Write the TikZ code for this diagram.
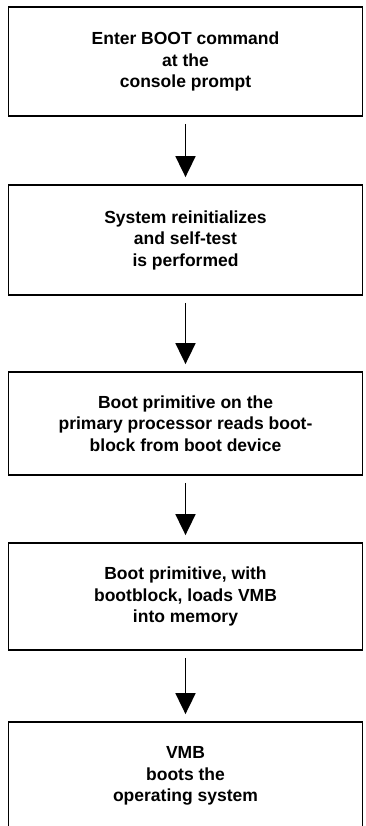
\documentclass[tikz,border=0pt]{standalone}
\usepackage{fontspec}
\setmainfont{Liberation Sans}
\usetikzlibrary{arrows.meta}

\begin{document}
\begin{tikzpicture}[x=1pt, y=-1pt, >={Triangle[width=20pt, length=21pt]},
  bootbox/.style={draw, line width=1.8pt, minimum width=354pt,
                  inner sep=0pt, align=center,
                  font=\bfseries\fontsize{17.5}{21.5}\selectfont},
  flow/.style={->, line width=1.8pt, shorten <=7pt, shorten >=7pt}]
  \clip (0, 0) rectangle (365, 826);
  \node[bootbox, minimum height=109pt] (enter) at (185.5, 61.5)
    {Enter BOOT command\\at the\\console prompt};
  \node[bootbox, minimum height=110pt] (reinit) at (185.5, 240)
    {System reinitializes\\and self-test\\is performed};
  \node[bootbox, minimum height=103pt] (readblk) at (185.5, 423.5)
    {Boot primitive on the\\primary processor reads boot-\\block from boot device};
  \node[bootbox, minimum height=107pt] (loadvmb) at (185.5, 596.5)
    {Boot primitive, with\\bootblock, loads VMB\\into memory};
  \node[bootbox, minimum height=108pt] (bootos) at (185.5, 776)
    {VMB\\boots the\\operating system};
  \draw[flow] (enter) -- (reinit);
  \draw[flow] (reinit) -- (readblk);
  \draw[flow] (readblk) -- (loadvmb);
  \draw[flow] (loadvmb) -- (bootos);
\end{tikzpicture}
\end{document}
